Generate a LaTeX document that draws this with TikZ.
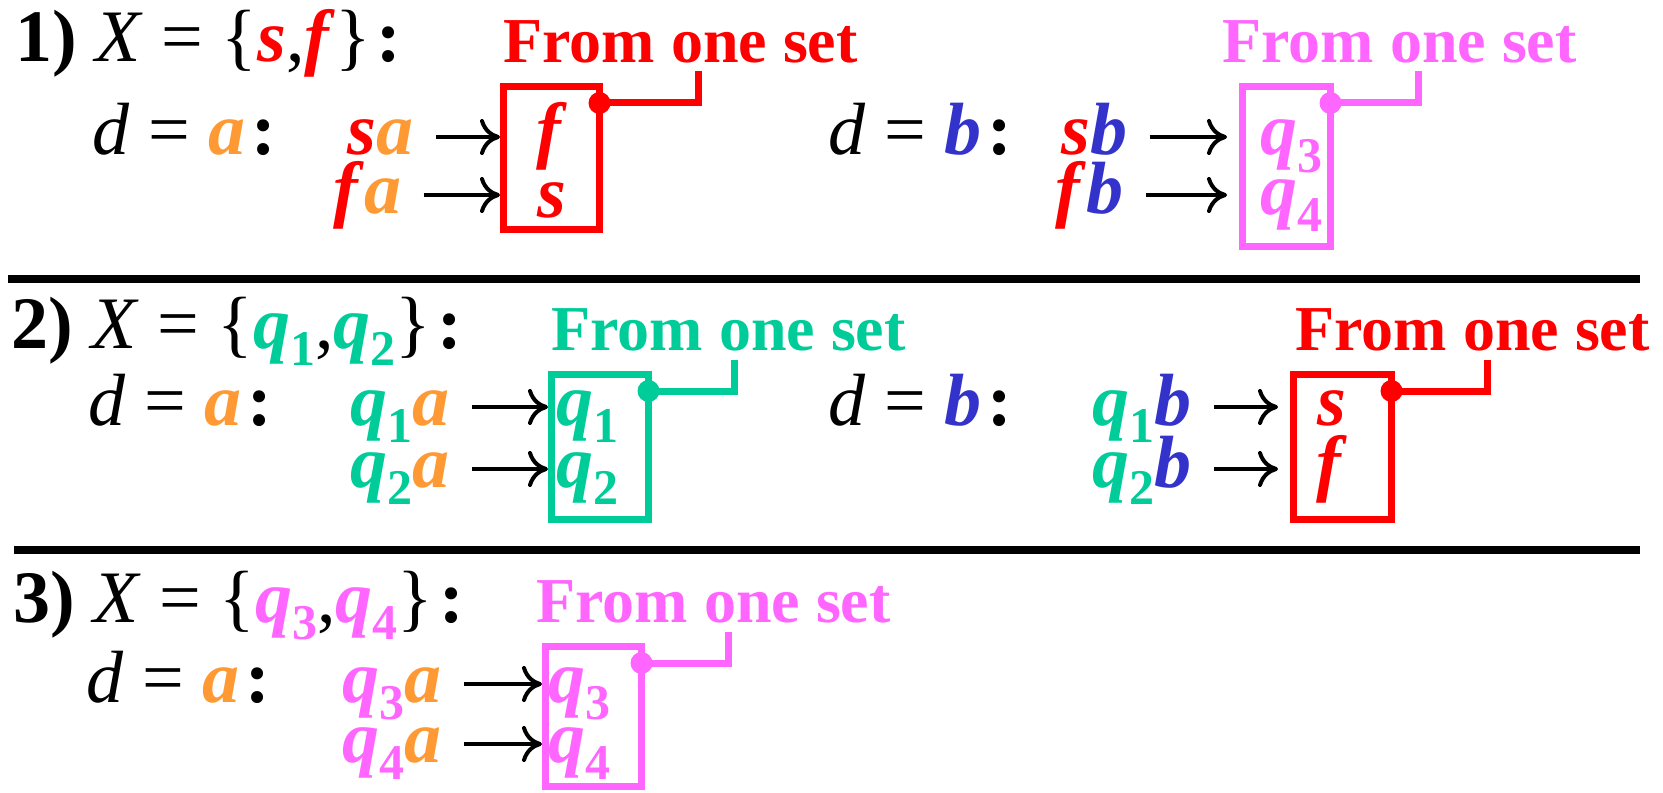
\documentclass[tikz,border=0pt]{standalone}
\usepackage{fontspec}
\setmainfont{Liberation Serif}
\usepackage{xcolor}
\usetikzlibrary{arrows.meta}
\definecolor{cred}{HTML}{FF0000}
\definecolor{corange}{HTML}{FF9933}
\definecolor{cblue}{HTML}{3333CC}
\definecolor{cgreen}{HTML}{00CC99}
\definecolor{cpink}{HTML}{FF66FF}
\newcommand\bi[2]{\textcolor{#1}{\textbf{\textit{#2}}}}
\newcommand\subn[1]{\raisebox{-0.23em}{\fontsize{25}{25}\selectfont\bfseries #1}}
\newcommand\qq[2]{\textcolor{#1}{\textbf{\textit{q}}\subn{#2}}}
\newcommand\bigfnt{\fontsize{37}{44}\selectfont}
\newcommand\cln{\kern3pt\textbf{:}}
\tikzset{
  txt/.style={inner sep=0pt,anchor=base west,font=\bigfnt},
  setlbl/.style={inner sep=0pt,anchor=base west,font=\fontsize{32}{38}\selectfont\bfseries},
  setbox/.style={draw,line width=3.5pt,inner sep=0pt},
  arr/.style={-{Computer Modern Rightarrow[length=10pt,width=18pt]},line width=2pt},
  lead/.style={line width=3.5pt},
  sepline/.style={line width=4pt}
}
\begin{document}
\begin{tikzpicture}[x=0.5pt,y=-0.5pt]
\useasboundingbox (0,0) rectangle (1663,792);
\draw[sepline] (8,279) -- (1640,279);
\draw[sepline] (14,550) -- (1640,550);

\node[txt] (hdr1) at (15,62) {\textbf{1)} \textit{X} = \{\bi{cred}{s},\bi{cred}{f}\}\cln};
\node[txt] (hdr2) at (11,348) {\textbf{2)} \textit{X} = \{\qq{cgreen}{1},\qq{cgreen}{2}\}\cln};
\node[txt] (hdr3) at (13,622) {\textbf{3)} \textit{X} = \{\qq{cpink}{3},\qq{cpink}{4}\}\cln};

\node[txt] (da1) at (92,155) {\textit{d} = \bi{corange}{a}\cln};
\node[txt] (db1) at (828,155) {\textit{d} = \bi{cblue}{b}\cln};
\node[txt] (da2) at (88,425) {\textit{d} = \bi{corange}{a}\cln};
\node[txt] (db2) at (828,425) {\textit{d} = \bi{cblue}{b}\cln};
\node[txt] (da3) at (86,702) {\textit{d} = \bi{corange}{a}\cln};

\node[txt] (sa) at (347,155) {\bi{cred}{s}\bi{corange}{a}};
\node[txt] (fa) at (333,213) {\bi{cred}{f}\bi{corange}{a}};
\node[txt] (sb) at (1061,155) {\bi{cred}{s}\bi{cblue}{b}};
\node[txt] (fb) at (1055,213) {\bi{cred}{f}\bi{cblue}{b}};
\node[txt] (qoa) at (350,425) {\qq{cgreen}{1}\bi{corange}{a}};
\node[txt] (qta) at (350,487) {\qq{cgreen}{2}\bi{corange}{a}};
\node[txt] (qob) at (1092,425) {\qq{cgreen}{1}\bi{cblue}{b}};
\node[txt] (qtb) at (1092,487) {\qq{cgreen}{2}\bi{cblue}{b}};
\node[txt] (qra) at (342,702) {\qq{cpink}{3}\bi{corange}{a}};
\node[txt] (qfa) at (342,762) {\qq{cpink}{4}\bi{corange}{a}};

\node[setbox,cred,minimum width=48pt,minimum height=71.5pt] (box1) at (551.5,158) {};
\node[setbox,cpink,minimum width=44pt,minimum height=80pt] (box2) at (1286.5,166.5) {};
\node[setbox,cgreen,minimum width=48.5pt,minimum height=72.5pt] (box3) at (600,447) {};
\node[setbox,cred,minimum width=49pt,minimum height=72.5pt] (box4) at (1342.5,447) {};
\node[setbox,cpink,minimum width=48pt,minimum height=70pt] (box5) at (593.5,716.5) {};

\node[txt,anchor=base,cred] (box1f) at (552,155) {\textbf{\textit{f}}};
\node[txt,anchor=base,cred] (box1s) at (552,217) {\textbf{\textit{s}}};
\node[txt] (box2q) at (1260,155) {\qq{cpink}{3}};
\node[txt] (box2r) at (1260,214) {\qq{cpink}{4}};
\node[txt] (box3q) at (556,425) {\qq{cgreen}{1}};
\node[txt] (box3r) at (556,487) {\qq{cgreen}{2}};
\node[txt,anchor=base,cred] (box4s) at (1332,425) {\textbf{\textit{s}}};
\node[txt,anchor=base,cred] (box4f) at (1332,487) {\textbf{\textit{f}}};
\node[txt] (box5q) at (548,702) {\qq{cpink}{3}};
\node[txt] (box5r) at (548,762) {\qq{cpink}{4}};

\node[setlbl,cred] (lbl1) at (503,63) {From one set};
\node[setlbl,cpink] (lbl2) at (1222,63) {From one set};
\node[setlbl,cgreen] (lbl3) at (551,350) {From one set};
\node[setlbl,cred] (lbl4) at (1295,350) {From one set};
\node[setlbl,cpink] (lbl5) at (536,622) {From one set};

\foreach \src/\dst/\gap in {sa/box1/0,fa/box1/0,sb/box2/6,fb/box2/6,qoa/box3/0,qta/box3/0,qob/box4/6,qtb/box4/6,qra/box5/0,qfa/box5/0}
  \draw[arr,shorten >=\gap pt] ([xshift=11pt,yshift=9pt]\src.base east) -- ([yshift=9pt]\src.base east -| \dst.west);

\foreach \b/\c/\x/\y in {box1/cred/698/71,box2/cpink/1418/71,box3/cgreen/734/360,box4/cred/1487/360,box5/cpink/728/632}{
  \coordinate (\b k) at ([xshift=-1.75pt,yshift=-10pt]\b.north east);
  \coordinate (\b t) at (\x,\y);
  \draw[lead,\c] (\b k) -| (\b t);
  \fill[\c] (\b k) circle (5.5pt);
}
\end{tikzpicture}
\end{document}
